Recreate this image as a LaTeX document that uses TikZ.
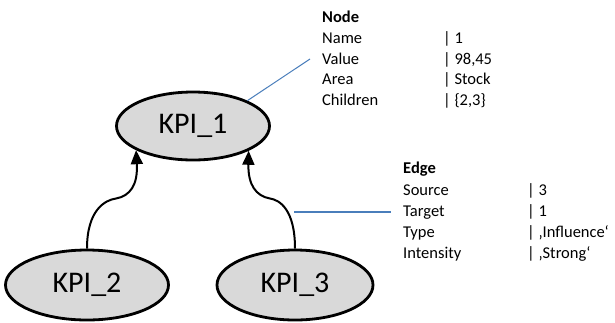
\documentclass[tikz,border=0pt]{standalone}
\usepackage{fontspec}
\setmainfont{Carlito}
\usetikzlibrary{arrows.meta,shapes.geometric}
\begin{document}
\begin{tikzpicture}[x=1pt,y=-1pt,
  kpi/.style={ellipse,draw=black,line width=2.8pt,fill=black!15,minimum width=#1,minimum height=68pt,inner sep=0pt,font=\fontsize{30}{33}\selectfont},
  conn/.style={line width=2pt,-{Triangle[width=12pt,length=14pt]}},
  lbl/.style={anchor=base west,inner sep=0pt,font=\fontsize{16.5}{19}\selectfont},
  hdr/.style={lbl,font=\fontsize{16.5}{19}\selectfont\bfseries},
]
\definecolor{calloutblue}{HTML}{4A7EBB}
\useasboundingbox (0,0) rectangle (615,322);
\node[kpi=153pt] (k1) at (193,126) {KPI\_1};
\node[kpi=163pt,minimum height=70pt] (k2) at (87,285) {KPI\_2};
\node[kpi=156pt,minimum height=70pt] (k3) at (295,285) {KPI\_3};

\draw[conn] (k2.north) .. controls (87,210) and (105,200) .. (116,198.5)
  .. controls (130,196) and (138,185) .. (k1.203.6);
\draw[conn] (k3.north) .. controls (295,210) and (280,200) .. (270,198.5)
  .. controls (256,196) and (248,185) .. (k1.336.4);

% Node info
\coordinate (nc) at (310,59);
\draw[calloutblue,line width=1pt] (k1.25.3) -- (nc);
\node[hdr] (nh) at (322,22) {Node};
\node[lbl] (n1) at (322,43) {Name};
\node[lbl] (n2) at (322,64) {Value};
\node[lbl] (n3) at (322,84.5) {Area};
\node[lbl] (n4) at (322,105) {Children};
\node[lbl] (v1) at (443,43) {| 1};
\node[lbl] (v2) at (443,64) {| 98,45};
\node[lbl] (v3) at (443,84.5) {| Stock};
\node[lbl] (v4) at (443,105) {| \{2,3\}};

% Edge info
\coordinate (ea) at (294,212);
\coordinate (eb) at (391,212);
\draw[calloutblue,line width=1.5pt] (ea) -- (eb);
\node[hdr] (eh) at (403,173) {Edge};
\node[lbl] (e1) at (403,195) {Source};
\node[lbl] (e2) at (403,216.5) {Target};
\node[lbl] (e3) at (403,237) {Type};
\node[lbl] (e4) at (403,258) {Intensity};
\node[lbl] (w1) at (527,195) {| 3};
\node[lbl] (w2) at (527,216.5) {| 1};
\node[lbl] (w3) at (527,237) {| ‚Influence‘};
\node[lbl] (w4) at (527,258) {| ‚Strong‘};
\end{tikzpicture}
\end{document}
